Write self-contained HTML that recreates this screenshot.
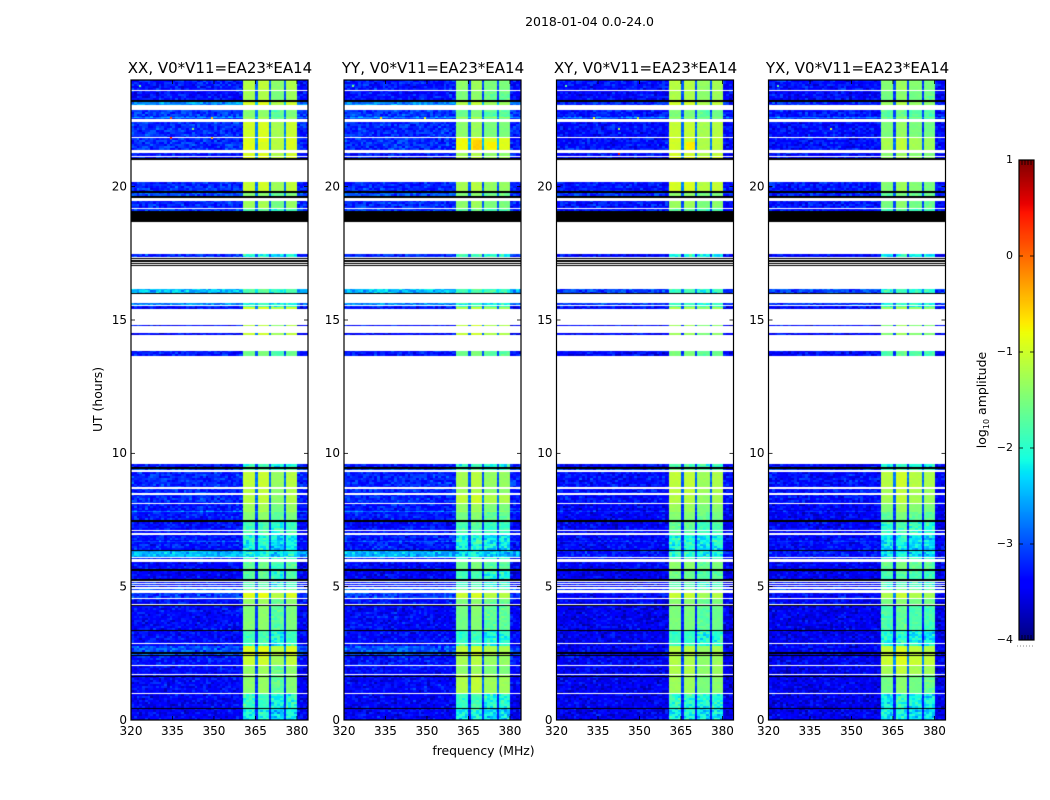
<!DOCTYPE html>
<html lang="en">
<head>
<meta charset="utf-8">
<title>2018-01-04 0.0-24.0</title>
<style>
html,body{margin:0;padding:0;background:#fff;}
#figure{position:relative;width:1050px;height:800px;overflow:hidden;background:#fff;font-family:"DejaVu Sans","Liberation Sans",sans-serif;}
canvas{position:absolute;display:block;}
#overlay{position:absolute;left:0;top:0;}
text{font-family:"DejaVu Sans","Liberation Sans",sans-serif;fill:#000;}
</style>
</head>
<body>
<div id="figure">
<svg id="overlay" width="1050" height="800">
<text x="589.5" y="26" font-size="12.5" text-anchor="middle">2018-01-04 0.0-24.0</text>
<text x="483.5" y="755" font-size="12.4" text-anchor="middle">frequency (MHz)</text>
<text transform="translate(102,399.5) rotate(-90)" font-size="12.4" text-anchor="middle">UT (hours)</text>
<text transform="translate(986,400) rotate(-90)" font-size="12.5" text-anchor="middle">log<tspan font-size="8" dy="3">10</tspan><tspan dy="-3"> amplitude</tspan></text>
</svg>
</div>
<script>
// ---------- categories and tick labels ----------
const polNames = ['XX','YY','XY','YX'];
const baselineLabel = 'V0*V11=EA23*EA14';
const xTicks = [320,335,350,365,380];
const yTicks = [0,5,10,15,20];
const colorTicks = [1,0,-1,-2,-3,-4];

// ---------- frequency structure (MHz) ----------
const bandEdges = [320,360.6,365,365.8,370,370.8,375.2,375.9,380.1,384];
const bandRole = ['low',0,'gap',1,'gap',2,'gap',3,'tail'];
// per-pol offset of each of the four bright sub-bands (log10 amplitude)
const subXX = [0.15,0.2,-0.1,0.1];
const subYY = [0.1,0.2,0,0];
const subXY = [0.2,0.2,0,0.1];
const subYX = [0.05,0.2,0.05,0];

// ---------- time rows: top / bottom hour of each unflagged block ----------
const rowTop = [24,23.59,23.22,23.17,22.89,22.63,22.58,22.42,21.83,21.27,
21.11,20.17,19.77,19.48,19.17,17.49,16.18,16.12,15.62,15.53,
15.49,14.83,14.51,13.82,9.61,9.43,9.29,8.67,8.57,8.42,
8.09,7.82,7.79,7.44,7.10,6.95,6.71,6.66,6.56,6.33,
6.06,5.94,5.60,5.18,5.11,5.03,4.93,4.76,4.53,4.31,
3.36,2.86,2.76,2.41,2.04,1.70,0.99,0.41];
const rowBottom = [23.63,23.25,23.19,23.09,22.63,22.58,22.55,21.87,21.39,21.15,
21.05,19.86,19.63,19.21,19.08,17.36,16.14,16.02,15.57,15.49,
15.43,14.79,14.46,13.66,9.43,9.39,8.75,8.62,8.52,8.16,
7.82,7.79,7.44,7.13,7.01,6.71,6.66,6.59,6.33,6.12,
6.02,5.60,5.23,5.15,5.07,4.99,4.89,4.59,4.35,3.36,
2.91,2.76,2.43,2.08,1.73,1.03,0.41,0];

// ---------- quiet-band level per row (parallel polarisations / cross hands) ----------
const lowParallel = [-3.3,-3.35,-3.2,-2.7,-3.1,-2.6,-3.2,-3.2,-3.2,-3.25,
-3.3,-3.2,-3,-3.2,-3.1,-3.2,-2.4,-2.5,-2.7,-3.2,
-3.4,-3.4,-3.4,-3.3,-3.3,-3,-3.2,-3.2,-3.2,-3.2,
-3.3,-2.8,-3.3,-3.35,-3.3,-3.3,-3,-3.3,-3.3,-2.5,
-3.3,-3.4,-3.45,-3.3,-3.3,-3.3,-2.9,-3.1,-3.35,-3.4,
-3.4,-3.4,-3,-3.3,-3.4,-3.4,-3.45,-3.45];
const lowCross = [-3.35,-3.4,-3.4,-3.2,-3.3,-2.7,-3.3,-3.35,-3.35,-3.35,
-3.4,-3.3,-3.2,-3.3,-3.3,-3.4,-3,-3.1,-3.1,-3.3,
-3.4,-3.4,-3.4,-3.4,-3.4,-3.1,-3.35,-3.35,-3.35,-3.35,
-3.45,-3.2,-3.45,-3.45,-3.4,-3.4,-3.2,-3.4,-3.4,-3.3,
-3.4,-3.45,-3.5,-3.4,-3.4,-3.4,-3.2,-3.4,-3.45,-3.5,
-3.5,-3.5,-3.45,-3.45,-3.5,-3.5,-3.5,-3.5];

// ---------- bright-band level per row ----------
const highXX = [-1.3,-1.4,-1.3,-1.1,-1.6,-1.4,-1.5,-1.15,-1.05,-1.1,
-1,-1.2,-1.6,-1.45,-1.9,-2.2,-1.8,-1.9,-2.1,-2,
-1.1,-1.3,-1.2,-1.7,-2.1,-1.9,-1.25,-1.3,-1.3,-1.3,
-1.45,-1.4,-1.6,-2,-1.9,-2.2,-2.1,-2.2,-2.3,-2.3,
-1.9,-1.8,-1.85,-2,-2,-2,-1.7,-1.05,-1.5,-1.6,
-2,-2.1,-1.05,-1.2,-1.5,-1.55,-2.1,-2.3];
const highYY = [-1.5,-1.6,-1.6,-1.3,-1.7,-1.3,-1.6,-1.5,-0.9,-1.4,
-1.3,-1.35,-1.6,-1.5,-1.8,-2,-1.9,-2,-2.1,-2,
-1.3,-1.2,-1.2,-1.7,-2.1,-1.9,-1.35,-1.4,-1.4,-1.2,
-1.5,-1.4,-1.65,-1.9,-1.9,-2.2,-2.2,-2.2,-2.3,-2.4,
-1.9,-1.7,-2,-2,-2,-2,-1.7,-1.15,-1.6,-1.65,
-2.05,-2.1,-1.2,-1.35,-1.5,-1.3,-2.05,-2.3];
const highXY = [-1.35,-1.4,-1.4,-1.2,-1.7,-1.5,-1.7,-1.25,-1.2,-1.2,
-1,-1.15,-1.6,-1.5,-1.9,-2.2,-2,-2.1,-2.1,-2,
-1.4,-1.5,-1.5,-1.7,-2,-1.8,-1.3,-1.3,-1.3,-1.35,
-1.5,-1.5,-1.65,-1.85,-1.9,-2.2,-2.2,-2.2,-2.3,-2.2,
-1.9,-1.6,-1.8,-2,-2,-2,-1.7,-1.25,-1.6,-1.7,
-2.1,-2.1,-1.35,-1.4,-1.4,-1.5,-2.15,-2.3];
const highYX = [-1.5,-1.6,-1.5,-1.4,-1.8,-1.5,-1.8,-1.55,-1.3,-1.5,
-1.4,-1.5,-1.7,-1.6,-1.9,-2.2,-2,-2.1,-2.1,-2,
-1.4,-1.5,-1.5,-1.8,-2.1,-1.9,-1.2,-1.3,-1.3,-1.3,
-1.5,-1.5,-1.7,-2,-2,-2.3,-2.3,-2.3,-2.4,-2.3,
-1.9,-1.7,-1.9,-2,-2,-2,-1.7,-1.25,-1.6,-1.85,
-2.2,-2.2,-1.15,-1.1,-1.3,-1.6,-2.2,-2.3];

// ---------- fully black (under-range) rows ----------
const blackTop = [23.26,23.2,21.06,19.82,19.64,19.08,17.33,17.24,17.15,17.07,16.03,9.48,7.49,6.38,5.65,5.28,4.32,3.39,2.55,2.44,1.64,0.44];
const blackBottom = [23.22,23.16,21,19.76,19.57,18.67,17.27,17.19,17.1,17.01,15.99,9.42,7.43,6.33,5.59,5.22,4.27,3.35,2.47,2.39,1.6,0.4];

// ---------- strong patches ----------
const hotPol = [1,1,2,0];
const hotTop = [21.75,21.7,21.65,21.7];
const hotBottom = [21.4,21.4,21.4,21.4];
const hotFreqLo = [366,371,366,366];
const hotFreqHi = [370,375,370,370];
const hotLevel = [-0.55,-0.75,-0.72,-0.95];

// ---------- isolated interference spots ----------
const spotPol = [0,1,2,3,0,0,0,0,1,1,2,2,2,2,0,3];
const spotHour = [23.8,23.8,23.8,23.8,22.61,22.61,21.85,21.85,22.61,22.61,22.61,22.61,22.2,21.25,22.2,22.2];
const spotFreq = [323,323,323,323,334,349,334,349,333,349,333,349,342,342,342,342];
const spotLevel = [-1.7,-1.5,-1.7,-1.7,0.2,-0.5,0.4,-0.4,-0.6,-0.9,-0.8,-1,-1.3,0.6,-1.4,-1];

// ---------- hand-typed speckle texture (cycled); NOT read cell by cell from the reference ----------
const grain = [0.4,-0.6,0.1,0.9,-0.3,-0.8,0.6,0,-0.5,1,0.2,-0.9,0.3,-0.2,0.7,-0.7,0.5,-0.4,0.8,-0.1,
-1,0.3,0.6,-0.6,0,0.9,-0.3,0.2,-0.8,0.5,1,-0.5,-0.1,0.4,-0.9,0.7,0.1,-0.4,0.3,-0.7,
0.8,-0.2,-0.6,0.5,0.2,-1,0.6,0,0.9,-0.5,-0.3,0.4,-0.8,0.1,0.7,-0.1,-0.6,1,0.3,-0.4,
0.5,-0.9,0.2,-0.2,0.8,-0.7,0,0.6,-0.5,0.4,-0.3,0.9,-0.8,0.1,-0.1,0.7,-1,0.5,0.3,-0.6,
0.2,0.8,-0.4,-0.7,0.6,0,1,-0.2,-0.9,0.4,0.1,-0.5,0.7,-0.3,0.3,-0.8,0.9,-0.1,-0.6,0.5,
0,-0.4,0.8,-1,0.2,0.6,-0.7,0.4,-0.2,0.1,0.9,-0.5,-0.3,0.7,-0.9,0.3,0.5,-0.1,-0.6,1,
-0.4,0.2,-0.8,0.6,0,-0.7,0.4];

// ---------- axes ----------
const panelLeft = [131,344,556.5,768.5];
const panelWidth = 177;
const plotTop = 80, plotBottom = 720;
const xMin = 320, xMax = 384, yMin = 0, yMax = 24;
const barLeft = 1019, barRight = 1034, barTop = 160, barBottom = 640;
const vMin = -4, vMax = 1;
const tEnd = 'http://www.w3.org/2000/svg';

const xLocal = f => (f - xMin) / (xMax - xMin) * panelWidth;
const yLocal = h => (yMax - h) / (yMax - yMin) * (plotBottom - plotTop);
const yBar = v => barTop + (vMax - v) / (vMax - vMin) * (barBottom - barTop);

function lerpStops(n, xs, vs){
  for (let i = 1; i < xs.length; i++) {
    if (n <= xs[i]) return vs[i-1] + (vs[i]-vs[i-1]) * (n-xs[i-1]) / (xs[i]-xs[i-1]);
  }
  return vs[vs.length-1];
}
function jet(v){
  const n = Math.max(0, Math.min(1, (v - vMin) / (vMax - vMin)));
  const r = lerpStops(n,[0,.35,.66,.89,1],[0,0,1,1,.5]);
  const g = lerpStops(n,[0,.125,.375,.64,.91,1],[0,0,1,1,0,0]);
  const b = lerpStops(n,[0,.11,.34,.65,1],[.5,1,1,0,0]);
  return 'rgb(' + Math.round(r*255) + ',' + Math.round(g*255) + ',' + Math.round(b*255) + ')';
}

const highByPol = [highXX,highYY,highXY,highYX];
const subByPol = [subXX,subYY,subXY,subYX];
const lowByPol = [lowParallel,lowParallel,lowCross,lowCross];

function grainAt(c, r, p){
  const n = grain.length;
  const a = (c*c*3 + r*r*5 + c*r*7 + c*11 + r*13 + p*41) % n;
  const b = (c*c*c + r*r*11 + c*r*3 + r*29 + p*19) % n;
  return (grain[a] + grain[b]) * 0.7;
}

function cellLevel(p, r, bandIdx, f, t, gv){
  const role = bandRole[bandIdx];
  const low = lowByPol[p][r];
  if (role === 'low') return low + 0.3 * gv;
  if (role === 'tail') return low - 0.05 + 0.3 * gv;
  if (role === 'gap') return Math.max(low + 0.25, highByPol[p][r] - 1.6) + 0.12 * gv;
  let high = highByPol[p][r] + subByPol[p][role];
  for (let i = 0; i < hotPol.length; i++) {
    if (hotPol[i] === p && t <= hotTop[i] && t > hotBottom[i] && f >= hotFreqLo[i] && f < hotFreqHi[i]) high = hotLevel[i];
  }
  const amp = high > -1.6 ? 0.05 : (high > -1.95 ? 0.16 : 0.34);
  return high + amp * gv;
}

const figure = document.getElementById('figure');
const overlay = document.getElementById('overlay');

polNames.forEach((pol, p) => {
  const cv = document.createElement('canvas');
  
  
  cv.width = panelWidth;
  cv.height = plotBottom - plotTop;
  cv.style.left = Math.round(panelLeft[p]) + 'px';
  cv.style.top = plotTop + 'px';
  figure.insertBefore(cv, overlay);
  const ctx = cv.getContext('2d');
  ctx.fillStyle = '#fff';
  ctx.fillRect(0, 0, cv.width, cv.height);
  const dt = 0.075;
  rowTop.forEach((top, r) => {
    const bottom = rowBottom[r];
    for (let b = 0; b < bandRole.length; b++) {
      for (let f = bandEdges[b]; f < bandEdges[b+1] - 0.01; f += 1) {
        const fHi = Math.min(f + 1, bandEdges[b+1]);
        const x0 = Math.round(xLocal(f));
        const x1 = Math.round(xLocal(fHi));
        for (let t = top; t > bottom + 0.001; ) {
          const rowIdx = Math.floor((t - 0.0001) / dt);
          const tLow = Math.max(rowIdx * dt, bottom);
          const y0 = Math.round(yLocal(t));
          const y1 = Math.max(y0 + 1, Math.round(yLocal(tLow)));
          const gv = grainAt(Math.floor(f), rowIdx, p);
          ctx.fillStyle = jet(cellLevel(p, r, b, f, (t + tLow) / 2, gv));
          ctx.fillRect(x0, y0, Math.max(1, x1 - x0), y1 - y0);
          t = tLow;
        }
      }
    }
  });
  blackTop.forEach((top, i) => {
    const y0 = Math.round(yLocal(top));
    const y1 = Math.max(y0 + 1, Math.round(yLocal(blackBottom[i])));
    ctx.fillStyle = '#000';
    ctx.fillRect(0, y0, panelWidth, y1 - y0);
  });
  spotPol.forEach((sp, i) => {
    if (sp !== p) return;
    ctx.fillStyle = jet(spotLevel[i]);
    ctx.fillRect(Math.round(xLocal(spotFreq[i])), Math.round(yLocal(spotHour[i])), 2, 2);
  });

  const L = panelLeft[p], R = L + panelWidth;
  const frame = document.createElementNS(tEnd, 'rect');
  
  
  frame.setAttribute('x', L);
  frame.setAttribute('y', plotTop);
  frame.setAttribute('width', panelWidth);
  frame.setAttribute('height', plotBottom - plotTop);
  frame.setAttribute('fill', 'none');
  frame.setAttribute('stroke', '#000');
  frame.setAttribute('stroke-width', '1.2');
  overlay.appendChild(frame);

  const title = document.createElementNS(tEnd, 'text');
  
  
  title.setAttribute('x', L + panelWidth / 2 + 0.5);
  title.setAttribute('y', 73);
  title.setAttribute('font-size', '15');
  title.setAttribute('text-anchor', 'middle');
  title.textContent = pol + ', ' + baselineLabel;
  overlay.appendChild(title);

  xTicks.forEach(v => {
    const x = L + xLocal(v);
    [[plotBottom, plotBottom - 4],[plotTop, plotTop + 4]].forEach(seg => {
      const tick = document.createElementNS(tEnd, 'line');
      
      
      tick.setAttribute('x1', x);
      tick.setAttribute('x2', x);
      tick.setAttribute('y1', seg[0]);
      tick.setAttribute('y2', seg[1]);
      tick.setAttribute('stroke', '#000');
      tick.setAttribute('stroke-width', '0.8');
      overlay.appendChild(tick);
    });
    const label = document.createElementNS(tEnd, 'text');
    
    
    label.setAttribute('x', x);
    label.setAttribute('y', 735);
    label.setAttribute('font-size', '12');
    label.setAttribute('text-anchor', 'middle');
    label.textContent = v;
    overlay.appendChild(label);
  });
  yTicks.forEach(v => {
    const y = plotTop + yLocal(v);
    [[L, L + 4],[R, R - 4]].forEach(seg => {
      const tick = document.createElementNS(tEnd, 'line');
      
      
      tick.setAttribute('x1', seg[0]);
      tick.setAttribute('x2', seg[1]);
      tick.setAttribute('y1', y);
      tick.setAttribute('y2', y);
      tick.setAttribute('stroke', '#000');
      tick.setAttribute('stroke-width', '0.8');
      overlay.appendChild(tick);
    });
    const label = document.createElementNS(tEnd, 'text');
    
    
    label.setAttribute('x', L - 4);
    label.setAttribute('y', y + 3.8);
    label.setAttribute('font-size', '12');
    label.setAttribute('text-anchor', 'end');
    label.textContent = v;
    overlay.appendChild(label);
  });
});

// ---------- colour bar ----------
const bar = document.createElement('canvas');


bar.width = barRight - barLeft;
bar.height = barBottom - barTop;
bar.style.left = barLeft + 'px';
bar.style.top = barTop + 'px';
figure.insertBefore(bar, overlay);
const bctx = bar.getContext('2d');
for (let i = 0; i < bar.height; i++) {
  bctx.fillStyle = jet(vMax - (i + 0.5) / bar.height * (vMax - vMin));
  bctx.fillRect(0, i, bar.width, 1);
}
const barFrame = document.createElementNS(tEnd, 'rect');


barFrame.setAttribute('x', barLeft);
barFrame.setAttribute('y', barTop);
barFrame.setAttribute('width', barRight - barLeft);
barFrame.setAttribute('height', barBottom - barTop);
barFrame.setAttribute('fill', 'none');
barFrame.setAttribute('stroke', '#000');
barFrame.setAttribute('stroke-width', '1.2');
overlay.appendChild(barFrame);
colorTicks.forEach(v => {
  const y = yBar(v);
  [[barLeft, barLeft + 4],[barRight, barRight - 4]].forEach(seg => {
    const tick = document.createElementNS(tEnd, 'line');
    
    
    tick.setAttribute('x1', seg[0]);
    tick.setAttribute('x2', seg[1]);
    tick.setAttribute('y1', y);
    tick.setAttribute('y2', y);
    tick.setAttribute('stroke', '#000');
    tick.setAttribute('stroke-width', '0.8');
    overlay.appendChild(tick);
  });
  const label = document.createElementNS(tEnd, 'text');
  
  
  label.setAttribute('x', barLeft - 6);
  label.setAttribute('y', y + 3);
  label.setAttribute('font-size', '11');
  label.setAttribute('text-anchor', 'end');
  label.textContent = v < 0 ? '\u2212' + Math.abs(v) : String(v);
  overlay.appendChild(label);
});
[barTop, barBottom].forEach(y0 => {
  for (let k = 1; k < 5; k++) {
    const x = barLeft + k * (barRight - barLeft) / 5;
    const minor = document.createElementNS(tEnd, 'line');
    
    
    minor.setAttribute('x1', x);
    minor.setAttribute('x2', x);
    minor.setAttribute('y1', y0);
    minor.setAttribute('y2', y0 === barTop ? y0 + 5 : y0 - 5);
    minor.setAttribute('stroke', '#000');
    minor.setAttribute('stroke-width', '0.8');
    overlay.appendChild(minor);
  }
});
const dots = document.createElementNS(tEnd, 'line');


dots.setAttribute('x1', 1017);
dots.setAttribute('x2', 1035);
dots.setAttribute('y1', 646);
dots.setAttribute('y2', 646);
dots.setAttribute('stroke', '#888');
dots.setAttribute('stroke-width', '1');
dots.setAttribute('stroke-dasharray', '1 2');
overlay.appendChild(dots);
</script>
</body>
</html>
